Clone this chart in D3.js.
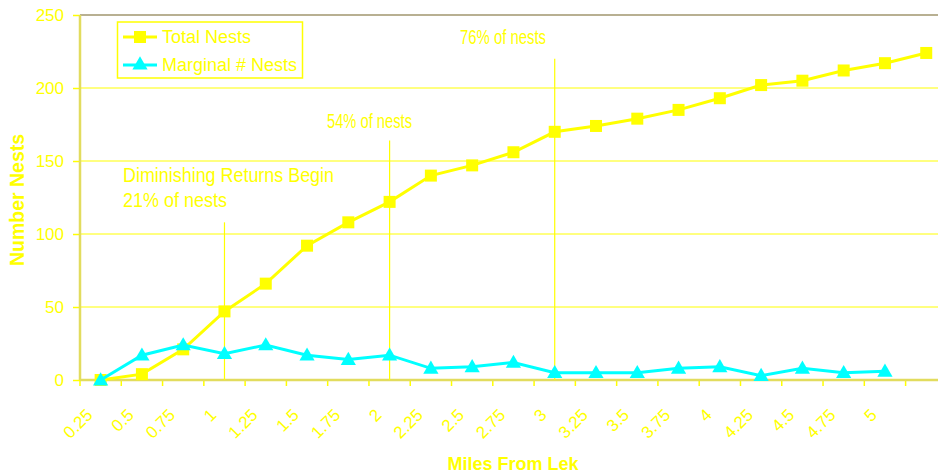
<!DOCTYPE html>
<html>
<head>
<meta charset="utf-8">
<script src="https://cdn.jsdelivr.net/npm/d3@7"></script>
<style>
  body { margin: 0; background: #fff; }
  text { font-family: "Liberation Sans", Arial, sans-serif; }
</style>
</head>
<body>
<div id="chart"></div>
<script>
// miles from lek (last category has no label)
const miles = ["0.25", "0.5", "0.75", "1", "1.25", "1.5", "1.75", "2", "2.25", "2.5",
               "2.75", "3", "3.25", "3.5", "3.75", "4", "4.25", "4.5", "4.75", "5", ""];
// cumulative nests
const totalNests = [0, 4, 21, 47, 66, 92, 108, 122, 140, 147, 156, 170, 174, 179, 185, 193, 202, 205, 212, 217, 224];
// nests added per step (none for the last category)
const marginalNests = [0, 17, 24, 18, 24, 17, 14, 17, 8, 9, 12, 5, 5, 5, 8, 9, 3, 8, 5, 6, null];
const yTicks = [0, 50, 100, 150, 200, 250];
const seriesNames = ["Total Nests", "Marginal # Nests"];
// vertical marker lines: category and how high (in nests) they reach
const markerCats = ["1", "2", "3"];
const markerTops = [108, 164, 220];
const noteTexts = ["Diminishing Returns Begin", "21% of nests", "54% of nests", "76% of nests"];

const w = 938, h = 473;
const plotLeft = 80, plotTop = 15, plotBottom = 380;
const step = 41.28;

const svg = d3.select("#chart").append("svg")
  .attr("width", w).attr("height", h);

const x = d3.scaleBand()
  .domain(miles.map((d, i) => i))
  .range([plotLeft, plotLeft + step * miles.length])
  .padding(0);
const xc = i => x(i) + x.bandwidth() / 2;

const y = d3.scaleLinear().domain([0, 250]).range([plotBottom, plotTop]);

// gridlines
svg.append("g").selectAll("line")
  .data(yTicks.filter(d => d > 0 && d < 250))
  .enter().append("line")
  .attr("x1", plotLeft).attr("x2", w)
  .attr("y1", d => y(d)).attr("y2", d => y(d))
  .attr("stroke", "#ffff00").attr("stroke-width", 1);

// top border
svg.append("line")
  .attr("x1", plotLeft).attr("x2", w)
  .attr("y1", y(250)).attr("y2", y(250))
  .attr("stroke", "#b8b092").attr("stroke-width", 2);

// y axis
const yAxis = d3.axisLeft(y).tickValues(yTicks).tickSize(7).tickPadding(9);
const gy = svg.append("g").attr("transform", `translate(${plotLeft},0)`).call(yAxis);
gy.select(".domain").remove();
gy.selectAll(".tick line").attr("stroke", "#ffff00").attr("stroke-width", 1.5);
gy.selectAll(".tick text").attr("fill", "#ffff00").attr("font-size", 17)
  .attr("font-family", "Liberation Sans, Arial, sans-serif");

// x tick marks at category edges
svg.append("g").selectAll("line")
  .data(d3.range(miles.length + 1))
  .enter().append("line")
  .attr("x1", i => plotLeft + i * step).attr("x2", i => plotLeft + i * step)
  .attr("y1", plotBottom).attr("y2", plotBottom + 6)
  .attr("stroke", "#ffff00").attr("stroke-width", 1.5);

// x labels rotated
svg.append("g").selectAll("text")
  .data(miles)
  .enter().append("text")
  .attr("transform", (d, i) => `translate(${xc(i) - 7},416) rotate(-45)`)
  .attr("text-anchor", "end")
  .attr("font-size", 17)
  .attr("fill", "#ffff00")
  .text(d => d);

// axis lines
svg.append("line").attr("x1", plotLeft).attr("x2", plotLeft).attr("y1", y(250)).attr("y2", plotBottom)
  .attr("stroke", "#e2dc5e").attr("stroke-width", 2.5);
svg.append("line").attr("x1", plotLeft).attr("x2", w).attr("y1", plotBottom).attr("y2", plotBottom)
  .attr("stroke", "#e2dc5e").attr("stroke-width", 2.5);

// marker lines
svg.append("g").selectAll("line")
  .data(markerCats)
  .enter().append("line")
  .attr("x1", d => xc(miles.indexOf(d))).attr("x2", d => xc(miles.indexOf(d)))
  .attr("y1", (d, i) => y(markerTops[i])).attr("y2", plotBottom)
  .attr("stroke", "#ffff00").attr("stroke-width", 1.2);

// notes
const notePos = [[123, 181.5, 211], [123, 206.5, 104], [327, 127.5, 85], [460, 44, 86]];
svg.append("g").selectAll("text")
  .data(noteTexts)
  .enter().append("text")
  .attr("x", (d, i) => notePos[i][0])
  .attr("y", (d, i) => notePos[i][1])
  .attr("textLength", (d, i) => notePos[i][2])
  .attr("lengthAdjust", "spacingAndGlyphs")
  .attr("font-size", 19.5)
  .attr("fill", "#ffff00")
  .text(d => d);

// series
const line = d3.line()
  .defined(d => d != null)
  .x((d, i) => xc(i))
  .y(d => y(d));

const tri = d3.symbol().type(d3.symbolTriangle).size(100);

svg.append("path")
  .datum(totalNests)
  .attr("d", line)
  .attr("fill", "none").attr("stroke", "#ffff00").attr("stroke-width", 3);
svg.append("g").selectAll("rect")
  .data(totalNests)
  .enter().append("rect")
  .attr("x", (d, i) => xc(i) - 6).attr("y", d => y(d) - 6)
  .attr("width", 12).attr("height", 12)
  .attr("fill", "#ffff00");

svg.append("path")
  .datum(marginalNests)
  .attr("d", line)
  .attr("fill", "none").attr("stroke", "#00ffff").attr("stroke-width", 3);
svg.append("g").selectAll("path")
  .data(marginalNests.map((d, i) => [d, i]).filter(p => p[0] != null))
  .enter().append("path")
  .attr("d", tri)
  .attr("transform", p => `translate(${xc(p[1])},${y(p[0]) + 1})`)
  .attr("fill", "#00ffff");

// legend
const legend = svg.append("g").attr("id", "legend");
legend.append("rect")
  .attr("x", 117.5).attr("y", 22).attr("width", 185).attr("height", 56)
  .attr("fill", "#fff").attr("stroke", "#ffff00").attr("stroke-width", 1.5);
const legendColors = ["#ffff00", "#00ffff"];
const legendY = [37, 65];
seriesNames.forEach((name, i) => {
  legend.append("line")
    .attr("x1", 123).attr("x2", 157).attr("y1", legendY[i]).attr("y2", legendY[i])
    .attr("stroke", legendColors[i]).attr("stroke-width", 3);
  if (i === 0) {
    legend.append("rect").attr("x", 134).attr("y", legendY[i] - 6)
      .attr("width", 12).attr("height", 12).attr("fill", legendColors[i]);
  } else {
    legend.append("path").attr("d", tri)
      .attr("transform", `translate(140,${legendY[i]})`).attr("fill", legendColors[i]);
  }
  legend.append("text")
    .attr("x", 162).attr("y", legendY[i]).attr("dy", "0.35em")
    .attr("font-size", 18).attr("fill", "#ffff00")
    .text(name);
});

// axis titles
svg.append("text")
  .attr("transform", "translate(24,200) rotate(-90)")
  .attr("text-anchor", "middle")
  .attr("font-size", 19.5).attr("font-weight", "bold").attr("fill", "#ffff00")
  .text("Number Nests");
svg.append("text")
  .attr("x", 513).attr("y", 470)
  .attr("text-anchor", "middle")
  .attr("font-size", 18).attr("font-weight", "bold").attr("fill", "#ffff00")
  .text("Miles From Lek");
</script>
</body>
</html>
